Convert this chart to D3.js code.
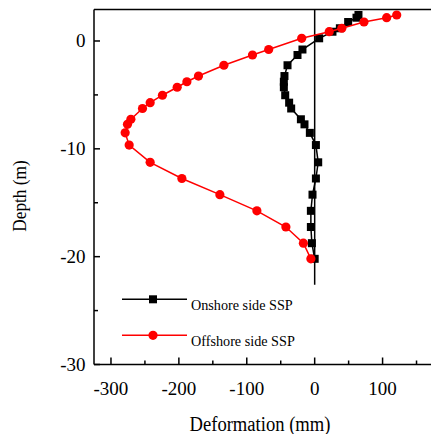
<!DOCTYPE html>
<html>
<head>
<meta charset="utf-8">
<script src="https://cdn.jsdelivr.net/npm/d3@7"></script>
<style>
  html, body { margin: 0; padding: 0; background: #fff; }
  svg { display: block; }
</style>
</head>
<body>
<svg id="chart" width="431" height="434"></svg>
<script>
// Measurement depths (m), shared by both sheet-pile series
const depths = [2.41, 2.16, 1.76, 1.18, 0.86, 0.25, -0.79, -1.30, -2.25, -3.25,
  -3.78, -4.29, -5.03, -5.72, -6.26, -7.26, -7.73, -8.52, -9.65, -11.25,
  -12.75, -14.25, -15.75, -17.25, -18.75, -20.2];

// Horizontal deformation (mm)
const onshore = [64.5, 61.6, 49.3, 37.1, 26.2, 6.6, -18, -25.3, -40, -44.5,
  -45.4, -45.4, -43.4, -37.6, -34.6, -20.3, -15, -7.1, 1.8, 5.2,
  1.8, -3.2, -5.6, -5.6, -4.1, 0];
const offshore = [120.8, 106, 72.6, 40, 21.4, -19.1, -67.7, -91.6, -133.7, -171.1,
  -188.2, -202.5, -224.2, -242.3, -253.6, -270.7, -275.7, -279.1, -273.2, -242.3,
  -195.6, -139.6, -85.1, -42.4, -16.6, -5.6];

const seriesNames = ["Onshore side SSP", "Offshore side SSP"];
const xTicks = [-300, -200, -100, 0, 100];
const yTicks = [0, -10, -20, -30];
const wallBottom = -22.6; // toe of the wall line at zero deformation

(function () {
  const FONT = "'Liberation Serif', 'Times New Roman', Times, 'DejaVu Serif', serif";
  const svg = d3.select("#chart").attr("font-family", FONT);
  const pl = 94, pt = 9.5, pb = 364.5, pr = 445;

  const x = d3.scaleLinear().domain([-325, 190]).range([pl, pl + 515 * 0.679]);
  const y = d3.scaleLinear().domain([-30, 2.92]).range([pb, pt]);

  const txt = sel => sel.attr("font-family", FONT).attr("fill", "#000");

  // top frame line
  svg.append("line").attr("x1", pl).attr("x2", pr).attr("y1", pt).attr("y2", pt)
    .attr("stroke", "#000").attr("stroke-width", 1.5);

  // bottom axis with inward ticks
  const gx = svg.append("g").attr("transform", `translate(0,${pb})`);
  gx.append("line").attr("x1", pl).attr("x2", pr).attr("stroke", "#000").attr("stroke-width", 1.5);
  gx.selectAll("line.tick").data(d3.range(-300, 200, 50)).join("line")
    .attr("class", "tick")
    .attr("x1", d => x(d)).attr("x2", d => x(d))
    .attr("y1", 0).attr("y2", d => (d % 100 === 0 ? -7 : -4))
    .attr("stroke", "#000").attr("stroke-width", 1.5);
  gx.selectAll("text").data(xTicks).join("text")
    .call(txt)
    .attr("x", d => x(d)).attr("y", 30.5)
    .attr("text-anchor", "middle").attr("font-size", 19)
    .text(d => d);

  // left axis with inward ticks
  const gy = svg.append("g");
  gy.append("line").attr("x1", pl).attr("x2", pl).attr("y1", pt).attr("y2", pb)
    .attr("stroke", "#000").attr("stroke-width", 1.5);
  gy.selectAll("line.tick").data(d3.range(-30, 1, 5)).join("line")
    .attr("class", "tick")
    .attr("x1", pl).attr("x2", d => pl + (d % 10 === 0 ? 6 : 4))
    .attr("y1", d => y(d)).attr("y2", d => y(d))
    .attr("stroke", "#000").attr("stroke-width", 1.5);
  gy.selectAll("text").data(yTicks).join("text")
    .call(txt)
    .attr("x", 85.5).attr("y", d => y(d) + 6.3)
    .attr("text-anchor", "end").attr("font-size", 19)
    .text(d => d);

  // axis titles
  svg.append("text").call(txt).attr("x", 260).attr("y", 430.5)
    .attr("text-anchor", "middle").attr("font-size", 20)
    .attr("textLength", 141).attr("lengthAdjust", "spacingAndGlyphs")
    .text("Deformation (mm)");
  svg.append("text").call(txt).attr("transform", "translate(26,196) rotate(-90)")
    .attr("text-anchor", "middle").attr("font-size", 19)
    .attr("textLength", 71.5).attr("lengthAdjust", "spacingAndGlyphs")
    .text("Depth (m)");

  // wall line at zero deformation
  svg.append("line").attr("x1", x(0)).attr("x2", x(0)).attr("y1", pt).attr("y2", y(wallBottom))
    .attr("stroke", "#000").attr("stroke-width", 1.5);

  const line = d3.line().x(d => x(d[0])).y(d => y(d[1]));
  const onPts = onshore.map((v, i) => [v, depths[i]]);
  const offPts = offshore.map((v, i) => [v, depths[i]]);

  // onshore series: black squares
  svg.append("path").datum(onPts).attr("d", line)
    .attr("fill", "none").attr("stroke", "#000").attr("stroke-width", 1.5);
  svg.selectAll("rect.on").data(onPts).join("rect").attr("class", "on")
    .attr("x", d => x(d[0]) - 4).attr("y", d => y(d[1]) - 4)
    .attr("width", 8).attr("height", 8).attr("fill", "#000");

  // offshore series: red circles
  svg.append("path").datum(offPts).attr("d", line)
    .attr("fill", "none").attr("stroke", "#ff0000").attr("stroke-width", 1.5);
  svg.selectAll("circle.off").data(offPts).join("circle").attr("class", "off")
    .attr("cx", d => x(d[0])).attr("cy", d => y(d[1])).attr("r", 4.6)
    .attr("fill", "#ff0000");

  // legend
  const legend = [
    { name: seriesNames[0], color: "#000", shape: "square", ly: 299.3 },
    { name: seriesNames[1], color: "#ff0000", shape: "circle", ly: 335.3 }
  ];
  legend.forEach(l => {
    svg.append("line").attr("x1", 122).attr("x2", 187).attr("y1", l.ly).attr("y2", l.ly)
      .attr("stroke", l.color).attr("stroke-width", 1.5);
    if (l.shape === "square") {
      svg.append("rect").attr("x", 149).attr("y", l.ly - 4).attr("width", 8).attr("height", 8).attr("fill", l.color);
    } else {
      svg.append("circle").attr("cx", 153).attr("cy", l.ly).attr("r", 4.6).attr("fill", l.color);
    }
    svg.append("text").call(txt).attr("x", 191).attr("y", l.ly + 10.2).attr("font-size", 14.2)
      .text(l.name);
  });
})();
</script>
</body>
</html>
